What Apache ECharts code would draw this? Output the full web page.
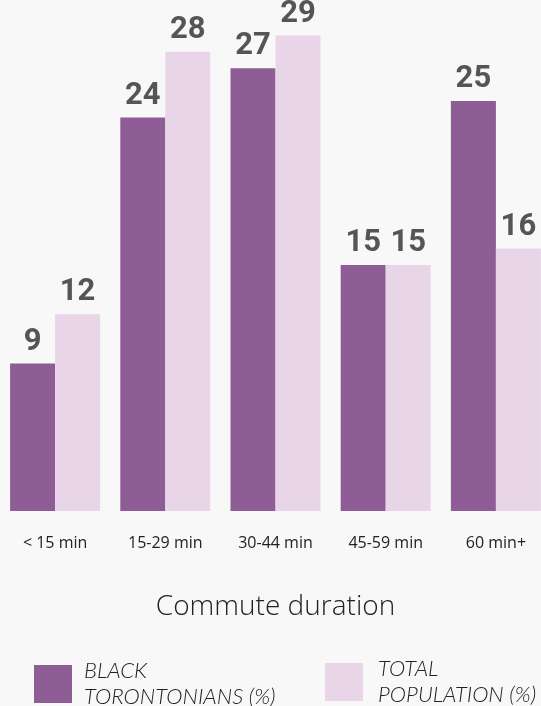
<!DOCTYPE html>
<html>
<head>
<meta charset="utf-8">
<script src="https://cdn.jsdelivr.net/npm/echarts@6/dist/echarts.min.js"></script>
<style>
  html, body { margin: 0; padding: 0; background: #f8f8f8; }
  #chart { width: 541px; height: 706px; }
</style>
</head>
<body>
<div id="chart"></div>
<script>
// Commute duration shares, in percent
const categories = ['< 15 min', '15-29 min', '30-44 min', '45-59 min', '60 min+'];
const blackTorontonians = [9, 24, 27, 15, 25];
const totalPopulation = [12, 28, 29, 15, 16];
const seriesNames = ['BLACK TORONTONIANS (%)', 'TOTAL POPULATION (%)'];

const darkPurple = '#8e5d96';
const lightPurple = '#e8d5e8';

const chart = echarts.init(document.getElementById('chart'), null, { renderer: 'canvas' });

const valueLabel = {
  show: true,
  position: 'top',
  distance: 6,
  color: '#555555',
  fontFamily: 'Roboto',
  fontWeight: 'bold',
  fontSize: 31
};

function legendText(padLeft) {
  return {
    fontFamily: 'Lato',
    fontStyle: 'italic',
    fontWeight: 300,
    fontSize: 22,
    lineHeight: 26,
    color: '#222222',
    padding: [0, 0, 0, padLeft]
  };
}

function wrapName(name) {
  const i = name.indexOf(' ');
  return name.slice(0, i) + '\n' + name.slice(i + 1);
}

chart.setOption({
  backgroundColor: '#f8f8f8',
  animation: false,
  // the last bar runs past the right edge of the canvas
  grid: { left: 0, width: 551, top: 19, height: 492, containLabel: false, outerBoundsMode: 'none' },
  legend: [
    {
      data: [seriesNames[0]],
      left: 34, top: 658, padding: 0,
      icon: 'rect', itemWidth: 38, itemHeight: 38,
      formatter: wrapName,
      textStyle: legendText(7)
    },
    {
      data: [seriesNames[1]],
      left: 325, top: 656, padding: 0,
      icon: 'rect', itemWidth: 38, itemHeight: 38,
      formatter: wrapName,
      textStyle: legendText(10)
    }
  ],
  xAxis: {
    type: 'category',
    data: categories,
    axisLine: { show: false },
    axisTick: { show: false },
    axisLabel: {
      margin: 24,
      fontFamily: 'Open Sans',
      fontSize: 16,
      color: '#222222'
    },
    name: 'Commute duration',
    nameLocation: 'middle',
    nameGap: 82,
    nameTextStyle: {
      fontFamily: 'Open Sans',
      fontWeight: 300,
      fontSize: 28,
      color: '#222222'
    }
  },
  yAxis: {
    type: 'value',
    min: 0,
    max: 30,
    show: false
  },
  series: [
    {
      name: seriesNames[0],
      type: 'bar',
      data: blackTorontonians,
      barWidth: 45,
      barGap: '0%',
      itemStyle: { color: darkPurple },
      label: valueLabel
    },
    {
      name: seriesNames[1],
      type: 'bar',
      data: totalPopulation,
      barWidth: 45,
      barGap: '0%',
      itemStyle: { color: lightPurple },
      label: valueLabel
    }
  ]
});
</script>
</body>
</html>
